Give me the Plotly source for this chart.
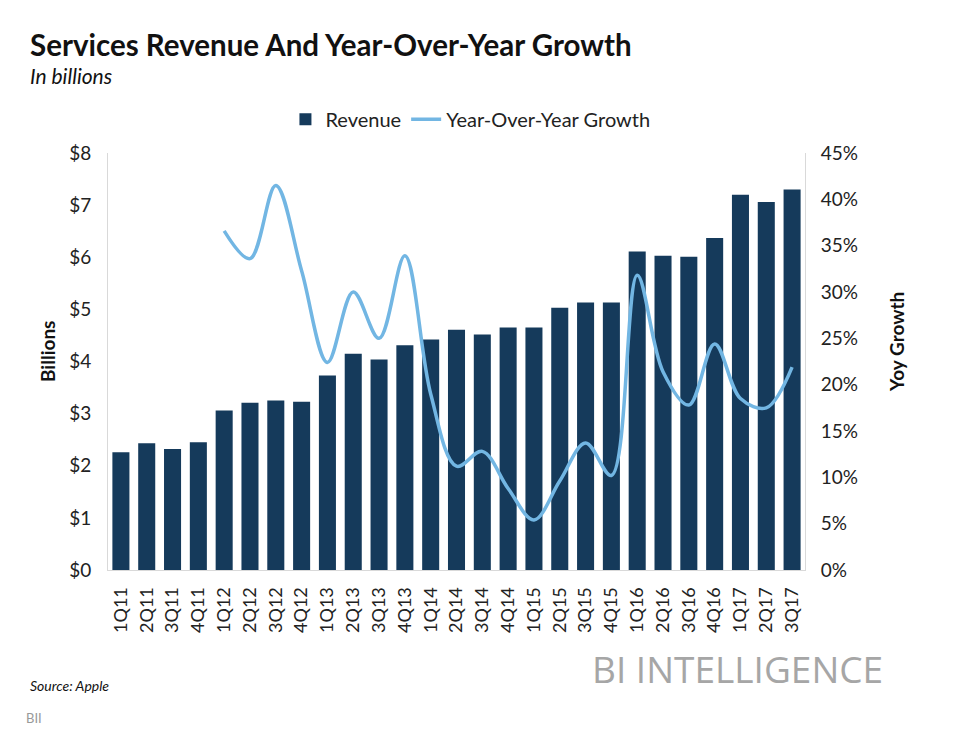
import plotly.graph_objects as go

quarters = ["1Q11", "2Q11", "3Q11", "4Q11", "1Q12", "2Q12", "3Q12", "4Q12",
            "1Q13", "2Q13", "3Q13", "4Q13", "1Q14", "2Q14", "3Q14", "4Q14",
            "1Q15", "2Q15", "3Q15", "4Q15", "1Q16", "2Q16", "3Q16", "4Q16",
            "1Q17", "2Q17", "3Q17"]

revenue = [2.26, 2.43, 2.32, 2.45, 3.06, 3.21, 3.25, 3.23,
           3.73, 4.15, 4.04, 4.31, 4.42, 4.61, 4.52, 4.65,
           4.65, 5.03, 5.13, 5.13, 6.11, 6.03, 6.01, 6.37,
           7.20, 7.06, 7.30]

# growth starts in 1Q12
growth = [None, None, None, None, 36.6, 33.6, 41.5, 32.3,
          22.4, 30.0, 25.0, 33.9, 19.0, 11.2, 12.8, 8.8,
          5.4, 9.6, 13.7, 10.2, 31.8, 21.4, 17.8, 24.4,
          18.5, 17.5, 21.9]

left_ticks = [0, 1, 2, 3, 4, 5, 6, 7, 8]
left_labels = ["$" + str(v) for v in left_ticks]
right_ticks = [0, 5, 10, 15, 20, 25, 30, 35, 40, 45]
right_labels = [str(v) + "%" for v in right_ticks]

FONT = "Lato"
bar_color = "#153A5B"
line_color = "#72B6E3"
no_tick = "rgba(0,0,0,0)"

fig = go.Figure()
fig.add_trace(go.Bar(
    x=quarters, y=revenue, name="Revenue",
    marker=dict(color=bar_color, line=dict(width=0)),
))
fig.add_trace(go.Scatter(
    x=quarters, y=growth, name="Year-Over-Year Growth", yaxis="y2",
    mode="lines", line=dict(color=line_color, width=3.5, shape="spline", smoothing=1.0),
    connectgaps=False,
))


def note(text, x, y, size, color="#111111", anchor="left", angle=0, family=FONT):
    return dict(text=text, xref="paper", yref="paper", x=x, y=y,
                xanchor=anchor, yanchor="middle", showarrow=False, textangle=angle,
                font=dict(size=size, color=color, family=family))


fig.update_layout(
    width=969, height=735,
    margin=dict(l=100, r=172, t=145, b=173),
    paper_bgcolor="white", plot_bgcolor="white",
    font=dict(family=FONT, color="#222222"),
    bargap=0.34,
    showlegend=True,
    legend=dict(orientation="h", x=0.52, xanchor="center", y=1.081, yanchor="middle",
                font=dict(size=20, color="#222222"), traceorder="normal",
                itemwidth=30),
    xaxis=dict(
        type="category", tickangle=-90, tickfont=dict(size=18, color="#222222"),
        showline=True, linecolor="#D9D9D9", linewidth=1,
        ticks="outside", ticklen=9, tickcolor=no_tick, showgrid=False,
    ),
    yaxis=dict(
        range=[0, 8], tickvals=left_ticks, ticktext=left_labels,
        tickfont=dict(size=19), showgrid=False, zeroline=False,
        showline=True, linecolor="#D9D9D9", linewidth=1,
        ticks="outside", ticklen=12, tickcolor=no_tick,
    ),
    yaxis2=dict(
        overlaying="y", side="right", range=[0, 45], tickvals=right_ticks,
        ticktext=right_labels, tickfont=dict(size=19), showgrid=False,
        zeroline=False, showline=True, linecolor="#D9D9D9", linewidth=1,
        ticks="outside", ticklen=11, tickcolor=no_tick,
    ),
    annotations=[
        note("<b>Services Revenue And Year-Over-Year Growth</b>", -0.115, 1.259, 29.5),
        note("<i>In billions</i>", -0.115, 1.187, 21),
        note("<b>Billions</b>", -0.086, 0.523, 19, color="#111111", anchor="center", angle=-90),
        note("<b>Yoy Growth</b>", 1.132, 0.547, 19, color="#111111", anchor="center", angle=-90),
        note("BI INTELLIGENCE", 1.115, -0.237, 37, color="#A6A6A6", anchor="right",
             family="Open Sans"),
        note("<i>Source: Apple</i>", -0.115, -0.278, 14),
        note("BII", -0.12, -0.355, 13, color="#999999"),
    ],
)

fig.write_html("out.html")
